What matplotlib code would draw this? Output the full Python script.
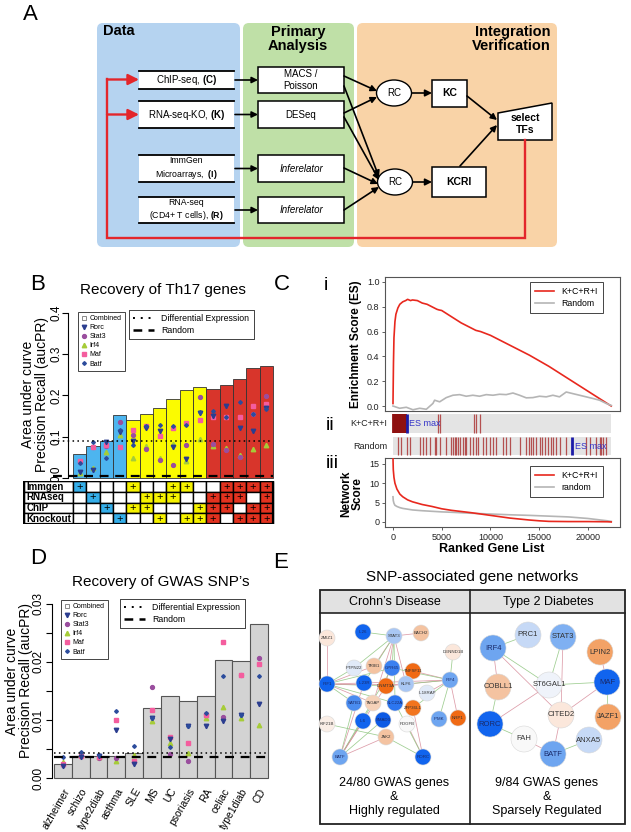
import numpy as np
import matplotlib
matplotlib.use('Agg')
import matplotlib.pyplot as plt
import matplotlib.transforms as mtransforms
from matplotlib.patches import Rectangle, FancyBboxPatch, Ellipse, Polygon, Circle
from matplotlib.lines import Line2D

plt.rcParams['font.family'] = ['Liberation Sans', 'DejaVu Sans']
plt.rcParams['mathtext.fontset'] = 'custom'
plt.rcParams['mathtext.rm'] = 'Liberation Sans'
plt.rcParams['mathtext.bf'] = 'Liberation Sans:bold'
plt.rcParams['mathtext.it'] = 'Liberation Sans:italic'

# ---------------- DATA ----------------
# Panel B
b_aucpr = [0.059, 0.078, 0.0905, 0.153, 0.140, 0.155, 0.170, 0.191, 0.213, 0.220,
           0.216, 0.226, 0.239, 0.267, 0.272]
b_rorc = [0.014, 0.020, 0.086, 0.111, 0.089, 0.120, 0.113, 0.075, 0.047, 0.158, 0.150, 0.175, 0.120, 0.113, 0.170]
b_stat3 = [0.038, 0.076, 0.078, 0.135, 0.103, 0.069, 0.044, 0.032, 0.079, 0.196, 0.083, 0.067, 0.051, 0.155, 0.198]
b_irf4 = [0.011, 0.024, 0.062, 0.103, 0.048, 0.077, 0.048, 0.082, 0.042, 0.095, 0.077, 0.073, 0.056, 0.070, 0.081]
b_maf = [0.040, 0.076, 0.079, 0.075, 0.116, 0.127, 0.101, 0.122, 0.133, 0.140, 0.148, 0.148, 0.148, 0.175, 0.179]
b_batf = [0.036, 0.086, 0.048, 0.117, 0.079, 0.125, 0.128, 0.127, 0.128, 0.160, 0.163, 0.148, 0.185, 0.155, 0.168]
b_diffexp = 0.0905
b_random = 0.004
b_yticks = [0.0, 0.1, 0.2, 0.3, 0.4]
b_yticklabels = ['0.0', '0.1', '0.2', '0.3', '0.4']
tbl_rows = ['Immgen', 'RNAseq', 'ChIP', 'Knockout']
tbl_immgen = [1, 0, 0, 0, 1, 0, 0, 1, 1, 0, 0, 1, 1, 1, 1]
tbl_rnaseq = [0, 1, 0, 0, 0, 1, 1, 1, 0, 0, 1, 1, 1, 0, 1]
tbl_chip = [0, 0, 1, 0, 1, 1, 0, 0, 0, 1, 1, 1, 0, 1, 1]
tbl_knockout = [0, 0, 0, 1, 0, 0, 1, 0, 1, 1, 1, 0, 1, 1, 1]

# Panel C
es_x = [0, 50, 100, 200, 300, 500, 700, 1000, 1300, 1500, 1800, 2000, 2500, 3000, 3500, 4000, 4500,
        4700, 5000, 6000, 7000, 8000, 8500, 9000, 10000, 12000, 14000, 16000, 18000, 20000, 22400]
es_kcri = [0.02, 0.35, 0.55, 0.68, 0.74, 0.79, 0.82, 0.84, 0.85, 0.86, 0.85, 0.855, 0.85, 0.83, 0.82, 0.80,
           0.78, 0.775, 0.77, 0.72, 0.67, 0.63, 0.61, 0.60, 0.57, 0.49, 0.41, 0.32, 0.22, 0.12, 0.0]
es_rand_x = [0, 680, 1370, 2050, 2740, 3420, 4100, 4270, 4790, 5470, 6150, 6840, 7520, 8200, 8890, 9570,
             10260, 10940, 11620, 12310, 12990, 13680, 14360, 15040, 15730, 16410, 17090, 17780, 18460,
             19150, 19830, 20510, 21200, 21880, 22400]
es_rand = [0.0, -0.018, -0.01, -0.03, -0.018, -0.026, 0.021, 0.047, 0.034, 0.068, 0.087, 0.092, 0.079,
           0.087, 0.079, 0.092, 0.087, 0.095, 0.092, 0.105, 0.087, 0.066, 0.068, 0.079, 0.074, 0.087,
           0.074, 0.113, 0.100, 0.087, 0.074, 0.061, 0.047, 0.021, 0.005]
hits_kcri = [0, 60, 120, 180, 250, 300, 380, 450, 520, 600, 680, 750, 830, 900, 1000, 1100, 1200, 1300,
             4600, 4800, 8270, 8480, 8890]
esmax_kcri = 1440
hits_rand = [513, 855, 1436, 1709, 2735, 3077, 3350, 3761, 4274, 4444, 4786, 5470, 5983, 6154, 6325, 6496,
             6667, 6838, 7179, 7350, 7521, 7863, 8205, 8479, 8718, 9231, 9504, 9915, 10256, 10598, 11282,
             11624, 11966, 12991, 13675, 13949, 14188, 14359, 14701, 15043, 15316, 15556, 15897, 16239,
             16410, 16752, 17094, 17778, 19829, 20171, 20855, 21197, 21368, 21538, 21812]
esmax_rand = 18393
net_x = [0, 30, 100, 200, 400, 700, 1000, 1500, 2000, 3000, 4000, 5000, 6000, 8000, 10000, 12000,
         14000, 15000, 16000, 18000, 20000, 22000, 22400]
net_kcri = [16.5, 13.5, 11.5, 10.0, 8.5, 7.2, 6.5, 5.7, 5.2, 4.5, 4.0, 3.4, 3.0, 2.4, 1.7, 1.0, 0.5,
            0.3, 0.15, 0.1, 0.1, 0.05, 0.0]
net_rand = [6.5, 5.5, 4.8, 4.3, 4.0, 3.7, 3.5, 3.3, 3.1, 2.9, 2.75, 2.6, 2.5, 2.25, 2.05, 1.85, 1.7,
            1.6, 1.5, 1.3, 0.9, 0.3, 0.15]

# Panel D
d_diseases = ['alzheimer', 'schizo', 'type2diab', 'asthma', 'SLE', 'MS', 'UC', 'psoriasis', 'RA',
              'celiac', 'type1diab', 'CD']
d_aucpr = [0.0024, 0.0038, 0.0038, 0.0038, 0.0043, 0.0120, 0.0142, 0.0133, 0.0142, 0.0204, 0.0201, 0.0266]
d_rorc = [0.0020, 0.0037, 0.0038, 0.0083, 0.0025, 0.0104, 0.0068, 0.0090, 0.0090, 0.0098, 0.0108, 0.0127]
d_stat3 = [0.0022, 0.0038, 0.0035, 0.0035, 0.0027, 0.0157, 0.0041, 0.0030, 0.0110, 0.0105, 0.0177, 0.0206]
d_irf4 = [0.0027, 0.0040, 0.0037, 0.0030, 0.0040, 0.0098, 0.0060, 0.0043, 0.0104, 0.0123, 0.0103, 0.0092]
d_maf = [0.0025, 0.0038, 0.0037, 0.0100, 0.0030, 0.0117, 0.0070, 0.0060, 0.0108, 0.0235, 0.0178, 0.0197]
d_batf = [0.0037, 0.0045, 0.0039, 0.0115, 0.0055, 0.0104, 0.0054, 0.0090, 0.0112, 0.0176, 0.0108, 0.0176]
d_diffexp = 0.0044
d_random = 0.0037

# Panel E networks
cd_nodes = ['ZMIZ1', 'IL26', 'STAT3', 'BACH2', 'DENND1B', 'IRF4', 'PTPN22', 'TRIB1', 'GPR65', 'TNFSF11',
            'IRF1', 'IL23R', 'DNMT3A', 'KLF6', 'IL18RAP', 'SATB1', 'TAGAP', 'SLC22A', 'ZFP36L1', 'IPMK',
            'NRP1', 'IL6', 'SMAD3', 'PDGFB', 'KIF21B', 'JAK2', 'BATF', 'RORC']
cd_edges = [('STAT3', 'IL26'), ('STAT3', 'BACH2'), ('STAT3', 'PTPN22'), ('STAT3', 'TRIB1'), ('STAT3', 'GPR65'),
            ('STAT3', 'DNMT3A'), ('STAT3', 'IL23R'), ('STAT3', 'TAGAP'), ('STAT3', 'SLC22A'), ('STAT3', 'KLF6'),
            ('IRF1', 'PTPN22'), ('IRF1', 'IL23R'), ('IRF1', 'DNMT3A'), ('IRF1', 'KLF6'), ('IRF1', 'SATB1'),
            ('IRF1', 'TAGAP'), ('IRF1', 'SLC22A'), ('IRF1', 'TRIB1'), ('IRF1', 'GPR65'), ('IRF1', 'ZMIZ1'),
            ('IRF4', 'DENND1B'), ('IRF4', 'TNFSF11'), ('IRF4', 'GPR65'), ('IRF4', 'DNMT3A'), ('IRF4', 'KLF6'),
            ('IRF4', 'IL18RAP'), ('IRF4', 'IPMK'), ('IRF4', 'NRP1'), ('IRF4', 'ZFP36L1'), ('IRF4', 'IL23R'),
            ('BATF', 'SATB1'), ('BATF', 'IL23R'), ('BATF', 'TAGAP'), ('BATF', 'JAK2'), ('BATF', 'SMAD3'),
            ('BATF', 'IL6'), ('BATF', 'GPR65'), ('BATF', 'DNMT3A'), ('RORC', 'JAK2'), ('RORC', 'PDGFB'),
            ('RORC', 'SLC22A'), ('RORC', 'ZFP36L1'), ('KIF21B', 'JAK2')]
t2d_nodes = ['PRC1', 'STAT3', 'IRF4', 'LPIN2', 'COBLL1', 'ST6GAL1', 'MAF', 'CITED2', 'JAZF1', 'RORC',
             'FAH', 'ANXA5', 'BATF']
t2d_edges = [('IRF4', 'PRC1'), ('IRF4', 'COBLL1'), ('IRF4', 'ST6GAL1'), ('IRF4', 'CITED2'),
             ('STAT3', 'ST6GAL1'), ('STAT3', 'CITED2'), ('MAF', 'ST6GAL1'), ('MAF', 'LPIN2'),
             ('MAF', 'JAZF1'), ('MAF', 'CITED2'), ('RORC', 'COBLL1'), ('RORC', 'ST6GAL1'),
             ('RORC', 'FAH'), ('BATF', 'FAH'), ('BATF', 'ANXA5'), ('BATF', 'CITED2')]

# ---------------- STYLE / LAYOUT ----------------
W, H = 631, 832
fig = plt.figure(figsize=(W / 100, H / 100), dpi=100)


def px_axes(x0, y0, x1, y1):
    return fig.add_axes([x0 / W, 1 - y1 / H, (x1 - x0) / W, (y1 - y0) / H])


ov = px_axes(0, 0, W, H)
ov.set_xlim(0, W)
ov.set_ylim(H, 0)
ov.axis('off')

RED = '#e3262b'

# ============ Panel A ============
ov.text(30, 15, 'A', fontsize=16, ha='center', va='center')
for x0, x1, col in [(97, 240, '#b5d3f0'), (243, 354, '#bfe0a7'), (357, 557, '#f9d3a7')]:
    ov.add_patch(FancyBboxPatch((x0, 23), x1 - x0, 224, boxstyle='round,pad=0,rounding_size=6',
                                fc=col, ec='none'))
ov.text(103, 31, 'Data', fontsize=10.5, fontweight='bold', ha='left', va='center')
ov.text(298, 39, 'Primary\nAnalysis', fontsize=10.5, fontweight='bold', ha='center', va='center',
        linespacing=1.05)
ov.text(551, 39, 'Integration\nVerification', fontsize=10.5, fontweight='bold', ha='right', va='center',
        linespacing=1.05, multialignment='right')

data_rows = [(71, 89), (101, 128), (155, 182), (197, 223)]
data_txt = [('ChIP-seq, $\\mathbf{(C)}$', 7), ('RNA-seq-KO, $\\mathbf{(K)}$', 7),
            ('ImmGen\nMicroarrays,  $\\mathbf{(I)}$', 6.3), ('RNA-seq\n(CD4+ T cells), $\\mathbf{(R)}$', 6.3)]
for (y0, y1), (t, fs) in zip(data_rows, data_txt):
    ov.add_patch(Rectangle((139, y0), 95, y1 - y0, fc='white', ec='none'))
    ov.plot([139, 234], [y0, y0], color='k', lw=1.3)
    ov.plot([139, 234], [y1, y1], color='k', lw=1.3)
    ov.text(186.5, (y0 + y1) / 2, t, fontsize=fs, ha='center', va='center', linespacing=1.3)

prim_rows = [(67, 93), (101, 128), (155, 182), (197, 223)]
prim_txt = [('MACS /\nPoisson', 'normal'), ('DESeq', 'normal'), ('Inferelator', 'italic'), ('Inferelator', 'italic')]
for (y0, y1), (t, st) in zip(prim_rows, prim_txt):
    ov.add_patch(Rectangle((258, y0), 86, y1 - y0, fc='white', ec='k', lw=1.1))
    ov.text(301, (y0 + y1) / 2, t, fontsize=7, style=st, ha='center', va='center', linespacing=1.3)


def arrow(p0, p1, color='k', lw=1.2, ms=9):
    ov.annotate('', xy=p1, xytext=p0,
                arrowprops=dict(arrowstyle='-|>', color=color, lw=lw, mutation_scale=ms,
                                shrinkA=0, shrinkB=0))


for yc in [80, 114.5, 168.5, 210]:
    arrow((235, yc), (258, yc))

# RC ellipses
ov.add_patch(Ellipse((394, 93), 35, 26, fc='white', ec='k', lw=1))
ov.add_patch(Ellipse((395, 182), 35, 26, fc='white', ec='k', lw=1))
ov.text(394, 93, 'RC', fontsize=7, ha='center', va='center')
ov.text(395, 182, 'RC', fontsize=7, ha='center', va='center')
arrow((344, 76), (377, 91))
arrow((344, 113), (377, 97))
arrow((344, 86), (379, 177))
arrow((344, 117), (379, 180))
arrow((344, 168), (378, 184))
arrow((344, 210), (379, 187))
ov.add_patch(Rectangle((432, 80), 35, 27, fc='white', ec='k', lw=1.1))
ov.text(449.5, 93.5, 'KC', fontsize=7.5, fontweight='bold', ha='center', va='center')
ov.add_patch(Rectangle((432, 167), 54, 30, fc='white', ec='k', lw=1.1))
ov.text(459, 182, 'KCRI', fontsize=7.5, fontweight='bold', ha='center', va='center')
arrow((412, 93), (432, 93), ms=10)
arrow((413, 182), (432, 182), ms=10)
ov.add_patch(Polygon([(498, 113), (552, 103), (552, 140), (498, 140)], closed=True, fc='white', ec='k', lw=1.1))
ov.text(525, 124, 'select\nTFs', fontsize=7.5, fontweight='bold', ha='center', va='center', linespacing=1.2)
arrow((467, 96), (497, 120))
arrow((460, 166), (497, 125))
ov.plot([525, 525, 107, 107], [140, 238, 238, 79], color=RED, lw=1.7, solid_joinstyle='miter')
arrow((107, 79.5), (139, 79.5), color=RED, lw=1.7, ms=16)
arrow((107, 114.5), (139, 114.5), color=RED, lw=1.7, ms=16)

# ============ Shared styles for B/D ============
tf_names = ['Combined', 'Rorc', 'Stat3', 'Irf4', 'Maf', 'Batf']
tf_style = {
    'Combined': dict(marker='s', mfc='none', mec='#777777', ms=2.8, mew=0.6),
    'Rorc': dict(marker='v', color='#2b3d8f', ms=3.2),
    'Stat3': dict(marker='o', color='#9a4e9e', ms=2.8),
    'Irf4': dict(marker='^', color='#a6cc38', ms=3.2),
    'Maf': dict(marker='s', color='#f45d9e', ms=2.8),
    'Batf': dict(marker='D', color='#2c4c9c', ms=1.9),
}


def tf_legend(ax, xpx, ypx):
    h = [Line2D([], [], ls='none', **tf_style[n]) for n in tf_names]
    leg = ax.legend(h, tf_names, loc='upper left', bbox_to_anchor=(xpx / W, 1 - ypx / H),
                    bbox_transform=fig.transFigure, fontsize=5, frameon=True, fancybox=False,
                    edgecolor='#444444', framealpha=1, handlelength=0.8, handletextpad=0.4,
                    labelspacing=0.3, borderpad=0.45, borderaxespad=0)
    leg.get_frame().set_linewidth(0.7)
    ax.add_artist(leg)


def line_legend(ax, xpx, ypx):
    h = [Line2D([], [], color='k', ls=(0, (1, 3)), lw=1.4),
         Line2D([], [], color='k', ls=(0, (3.5, 2.5)), lw=1.8)]
    leg = ax.legend(h, ['Differential Expression', 'Random'], loc='upper left',
                    bbox_to_anchor=(xpx / W, 1 - ypx / H), bbox_transform=fig.transFigure,
                    fontsize=6.3, frameon=True, fancybox=False, edgecolor='#444444', framealpha=1,
                    handlelength=2.3, handletextpad=0.9, labelspacing=0.25, borderpad=0.5, borderaxespad=0)
    leg.get_frame().set_linewidth(0.7)
    ax.add_artist(leg)


def plot_tfs(ax, xs, vals):
    for name, v in zip(['Irf4', 'Stat3', 'Maf', 'Rorc', 'Batf'], vals):
        ax.plot(xs, v, ls='none', **tf_style[name], zorder=4)


# ============ Panel B ============
ov.text(38, 285, 'B', fontsize=16, ha='center', va='center')
ov.text(163, 290, 'Recovery of Th17 genes', fontsize=11, ha='center', va='center')
ov.text(35, 394, 'Area under curve\nPrecision Recall (aucPR)', fontsize=10, rotation=90,
        ha='center', va='center', linespacing=1.0)

tbl = np.array([tbl_immgen, tbl_rnaseq, tbl_chip, tbl_knockout])
nsrc = tbl.sum(axis=0)
grp_bar = {1: '#4db5ef', 2: '#fbfb00', 3: '#d8352b', 4: '#d8352b'}
grp_cell = {1: '#35aee9', 2: '#f6f200', 3: '#e2321f', 4: '#e2321f'}
bar_cols = [grp_bar[n] for n in nsrc]

axB = px_axes(68, 306, 275, 480)
axB.set_facecolor('none')
xb = np.arange(1, len(b_aucpr) + 1)
axB.bar(xb, b_aucpr, width=1, color=bar_cols, edgecolor='#333333', lw=0.6, zorder=2)
plot_tfs(axB, xb, [b_irf4, b_stat3, b_maf, b_rorc, b_batf])
axB.plot([-1.0, 15.5], [b_diffexp] * 2, color='k', ls=(0, (1, 2.2)), lw=1.1, clip_on=False, zorder=5)
axB.plot([-1.0, 15.5], [b_random] * 2, color='k', ls=(0, (4, 3)), lw=1.6, clip_on=False, zorder=5)
axB.set_xlim(0.125, 15.65)
axB.set_ylim(-0.005, 0.417)
for s in ['top', 'right', 'bottom']:
    axB.spines[s].set_visible(False)
axB.spines['left'].set_bounds(0, 0.4)
axB.spines['left'].set_linewidth(0.8)
axB.set_xticks([])
axB.set_yticks(b_yticks)
axB.set_yticklabels([])
axB.tick_params(axis='y', length=4, width=0.8)
for k, (v, lab) in enumerate(zip(b_yticks, b_yticklabels)):
    tr = mtransforms.offset_copy(axB.get_yaxis_transform(), fig=fig, x=-12, y=(4 if k == 0 else 0),
                                 units='dots')
    axB.text(0, v, lab, transform=tr, rotation=90, ha='center', va='center', fontsize=8.5)
tf_legend(axB, 78, 312)
line_legend(axB, 129, 310)

# table
axT = px_axes(23, 481, 275, 524)
axT.set_xlim(-3.25, 15.65)
axT.set_ylim(4, 0)
axT.axis('off')
for r, (rname, row) in enumerate(zip(tbl_rows, tbl)):
    axT.add_patch(Rectangle((-3.2, r), 3.7, 1, fc='white', ec='k', lw=1.0))
    axT.text(-3.0, r + 0.52, rname, fontsize=7, fontweight='bold', ha='left', va='center')
    for c, v in enumerate(row):
        fc = grp_cell[nsrc[c]] if v else 'white'
        axT.add_patch(Rectangle((c + 0.5, r), 1, 1, fc=fc, ec='k', lw=1.0))
        if v:
            axT.text(c + 1, r + 0.52, '+', fontsize=8, ha='center', va='center')
axT.add_patch(Rectangle((-3.2, 0), 18.7, 4, fc='none', ec='k', lw=1.6))

# ============ Panel C ============
ov.text(282, 285, 'C', fontsize=16, ha='center', va='center')
ov.text(326, 285, 'i', fontsize=14, ha='center', va='center')
ov.text(330, 425, 'ii', fontsize=14, ha='center', va='center')
ov.text(332, 463, 'iii', fontsize=14, ha='center', va='center')
XL = (-820, 23300)


def style_gg(ax):
    for s in ax.spines.values():
        s.set_color('#555555')
        s.set_linewidth(0.8)
    ax.tick_params(labelsize=6.5, colors='#444444', length=2.5, width=0.6, pad=1.5)


axCi = px_axes(385, 277, 620, 411)
axCi.plot(es_x, es_kcri, color='#e8281e', lw=1.2, label='K+C+R+I')
axCi.plot(es_rand_x, es_rand, color='#b5b5b5', lw=1.2, label='Random')
axCi.set_xlim(*XL)
axCi.set_ylim(-0.04, 1.04)
axCi.set_xticks([])
axCi.set_yticks([0, 0.2, 0.4, 0.6, 0.8, 1.0])
axCi.set_yticklabels(['0.0', '0.2', '0.4', '0.6', '0.8', '1.0'])
style_gg(axCi)
for t in axCi.get_yticklabels():
    t.set_color('#222222')
leg = axCi.legend(loc='upper right', bbox_to_anchor=((603 - 385) / 235, (411 - 282) / 134),
                  fontsize=6.3, frameon=True, fancybox=False, edgecolor='#444444', framealpha=1,
                  handlelength=2.2, borderaxespad=0, labelspacing=0.3, borderpad=0.6)
leg.get_frame().set_linewidth(0.7)
ov.text(356, 344, 'Enrichment Score (ES)', fontsize=8.5, fontweight='bold', rotation=90,
        ha='center', va='center')

axCii = px_axes(385, 412, 620, 456)
axCii.set_facecolor('none')
axCii.set_xlim(*XL)
axCii.set_ylim(44, 0)
axCii.axis('off')
axCii.add_patch(Rectangle((0, 2), 22400, 19, fc='#e4e4e4', ec='none'))
axCii.add_patch(Rectangle((0, 25), 22400, 18, fc='#e4e4e4', ec='none'))
axCii.vlines(hits_kcri[:18], 2, 21, color='#8e1010', lw=1.3)
axCii.vlines(hits_kcri[18:], 2, 21, color='#b45050', lw=0.9)
axCii.vlines(hits_rand, 25, 43, color='#b45050', lw=0.9)
axCii.vlines([esmax_kcri], 2, 21, color='#1c1ca8', lw=2)
axCii.vlines([esmax_rand], 25, 43, color='#1c1ca8', lw=2)
axCii.text(esmax_kcri + 250, 11.5, 'ES max', fontsize=6.5, color='#3434c8', va='center')
axCii.text(esmax_rand + 250, 34, 'ES max', fontsize=6.5, color='#3434c8', va='center')
axCii.text(-600, 11.5, 'K+C+R+I', fontsize=6.5, ha='right', va='center', color='#222222')
axCii.text(-600, 34, 'Random', fontsize=6.5, ha='right', va='center', color='#222222')

axCiii = px_axes(385, 458, 620, 527)
axCiii.plot(net_x, net_kcri, color='#e8281e', lw=1.2, label='K+C+R+I', zorder=3)
axCiii.plot(net_x, net_rand, color='#b5b5b5', lw=1.2, label='random', zorder=2)
axCiii.set_xlim(*XL)
axCiii.set_ylim(-1.3, 16.5)
axCiii.set_yticks([0, 5, 10, 15])
axCiii.set_xticks([0, 5000, 10000, 15000, 20000])
axCiii.set_xticklabels(['0', '5000', '10000', '15000', '20000'])
style_gg(axCiii)
for t in axCiii.get_yticklabels() + axCiii.get_xticklabels():
    t.set_color('#222222')
leg = axCiii.legend(loc='upper right', bbox_to_anchor=((603 - 385) / 235, (527 - 466) / 69),
                    fontsize=6.3, frameon=True, fancybox=False, edgecolor='#444444', framealpha=1,
                    handlelength=2.2, borderaxespad=0, labelspacing=0.3, borderpad=0.6)
leg.get_frame().set_linewidth(0.7)
ov.text(352, 494, 'Network\nScore', fontsize=8.5, fontweight='bold', rotation=90, ha='center',
        va='center', linespacing=1.0)
ov.text(492, 549, 'Ranked Gene List', fontsize=9, fontweight='bold', ha='center', va='center')

# ============ Panel D ============
ov.text(38, 558, 'D', fontsize=16, ha='center', va='center')
ov.text(161, 582, "Recovery of GWAS SNP\u2019s", fontsize=11, ha='center', va='center')
ov.text(19, 681, 'Area under curve\nPrecision Recall (aucPR)', fontsize=10, rotation=90,
        ha='center', va='center', linespacing=1.0)
axD = px_axes(52, 598, 270, 781)
axD.set_facecolor('none')
xd = np.arange(1, len(d_aucpr) + 1)
axD.bar(xd, d_aucpr, width=1, color='#d3d3d3', edgecolor='#555555', lw=0.8, zorder=2)
plot_tfs(axD, xd, [d_irf4, d_stat3, d_maf, d_rorc, d_batf])
axD.plot([0.5, 12.5], [d_diffexp] * 2, color='k', ls=(0, (1, 2.2)), lw=1.1, zorder=5)
axD.plot([0.5, 12.5], [d_random] * 2, color='k', ls=(0, (4, 3)), lw=1.6, zorder=5)
axD.set_xlim(0.39, 12.61)
axD.set_ylim(-0.0005, 0.031)
for s in ['top', 'right', 'bottom']:
    axD.spines[s].set_visible(False)
axD.spines['left'].set_bounds(0, 0.03)
axD.spines['left'].set_linewidth(0.8)
axD.set_yticks([0, 0.005, 0.01, 0.015, 0.02, 0.025, 0.03])
axD.set_yticklabels(['0.00', '', '0.01', '', '0.02', '', '0.03'], rotation=90, va='center', fontsize=8.5)
axD.tick_params(axis='y', length=4, width=0.8, pad=1.5)
axD.set_xticks(xd)
axD.set_xticklabels(d_diseases, rotation=60, ha='right', rotation_mode='anchor', fontsize=7.5)
axD.tick_params(axis='x', length=0, pad=4)
tf_legend(axD, 61, 600)
line_legend(axD, 120, 599)

# ============ Panel E ============
ov.text(281, 562, 'E', fontsize=16, ha='center', va='center')
ov.text(472, 577, 'SNP-associated gene networks', fontsize=11, ha='center', va='center')
ov.add_patch(Rectangle((320, 590), 305, 23, fc='#e2e2e2', ec='none'))
ov.add_patch(Rectangle((320, 590), 305, 234, fc='none', ec='#222222', lw=1.3))
ov.plot([320, 625], [613, 613], color='#222222', lw=1.2)
ov.plot([470, 470], [590, 824], color='#222222', lw=1.2)
ov.text(395, 602, "Crohn\u2019s Disease", fontsize=9, ha='center', va='center')
ov.text(548, 602, 'Type 2 Diabetes', fontsize=9, ha='center', va='center')

DB, MB, LB, VLB = '#1164ee', '#6ea5f0', '#a9c7f4', '#e1eaf8'
OR, LO, PE, VLP, WH = '#f06a14', '#f3a266', '#f4c3a1', '#fbe7db', '#f9f9f9'
cd_layout = {
    'ZMIZ1': (327, 638, VLP), 'IL26': (363, 632, DB), 'STAT3': (394, 636, LB), 'BACH2': (421, 633, PE),
    'DENND1B': (453, 652, VLP), 'IRF4': (450, 680, MB), 'PTPN22': (354, 668, VLB), 'TRIB1': (374, 666, PE),
    'GPR65': (392, 668, '#3a80f0'), 'TNFSF11': (413, 671, OR), 'IRF1': (327, 684, DB), 'IL23R': (364, 683, DB),
    'DNMT3A': (386, 686, OR), 'KLF6': (406, 684, LB), 'IL18RAP': (427, 693, VLB), 'SATB1': (354, 703, '#4a8cf0'),
    'TAGAP': (373, 703, '#f6d2b9'), 'SLC22A': (395, 703, '#2c76f0'), 'ZFP36L1': (413, 708, '#f2741e'),
    'IPMK': (439, 719, MB), 'NRP1': (458, 718, OR), 'IL6': (363, 721, DB), 'SMAD3': (383, 720, '#0d5ae4'),
    'PDGFB': (407, 724, WH), 'KIF21B': (327, 724, '#faeee6'), 'JAK2': (386, 737, PE),
    'BATF': (340, 757, MB), 'RORC': (423, 757, DB),
}
t2d_layout = {
    'PRC1': (528, 635, '#c6d9f6'), 'STAT3': (563, 637, '#7fb0f2'), 'IRF4': (493, 648, MB),
    'LPIN2': (600, 652, LO), 'COBLL1': (498, 687, PE), 'ST6GAL1': (549, 685, '#eff3fa'),
    'MAF': (607, 682, DB), 'CITED2': (561, 715, VLP), 'JAZF1': (608, 717, LO), 'RORC': (490, 724, DB),
    'FAH': (524, 739, WH), 'ANXA5': (589, 740, '#c6d9f6'), 'BATF': (553, 754, MB),
}
edge_cols = ['#93c884', '#d9919f']


def draw_net(nodes, edges, layout, radius, fs):
    for k, (a, b) in enumerate(edges):
        xa, ya, _ = layout[a]
        xb_, yb_, _ = layout[b]
        ov.plot([xa, xb_], [ya, yb_], color=edge_cols[k % 2], lw=0.55, alpha=0.9, zorder=2)
    for n in nodes:
        x, y, c = layout[n]
        ov.add_patch(Circle((x, y), radius, fc=c, ec='#d8d8d8', lw=0.4, zorder=3))
        tc = '#1a2a6a' if c in (DB, MB, '#3a80f0', '#4a8cf0', '#2c76f0', '#0d5ae4') else '#333333'
        ov.text(x, y, n, fontsize=fs, ha='center', va='center', color=tc, zorder=4)


draw_net(cd_nodes, cd_edges, cd_layout, 8, 3.2)
draw_net(t2d_nodes, t2d_edges, t2d_layout, 13, 5.5)
ov.text(394, 797, '24/80 GWAS genes\n&\nHighly regulated', fontsize=9, ha='center', va='center',
        linespacing=1.2)
ov.text(547, 797, '9/84 GWAS genes\n&\nSparsely Regulated', fontsize=9, ha='center', va='center',
        linespacing=1.2)

fig.savefig('out.png', dpi=100)
